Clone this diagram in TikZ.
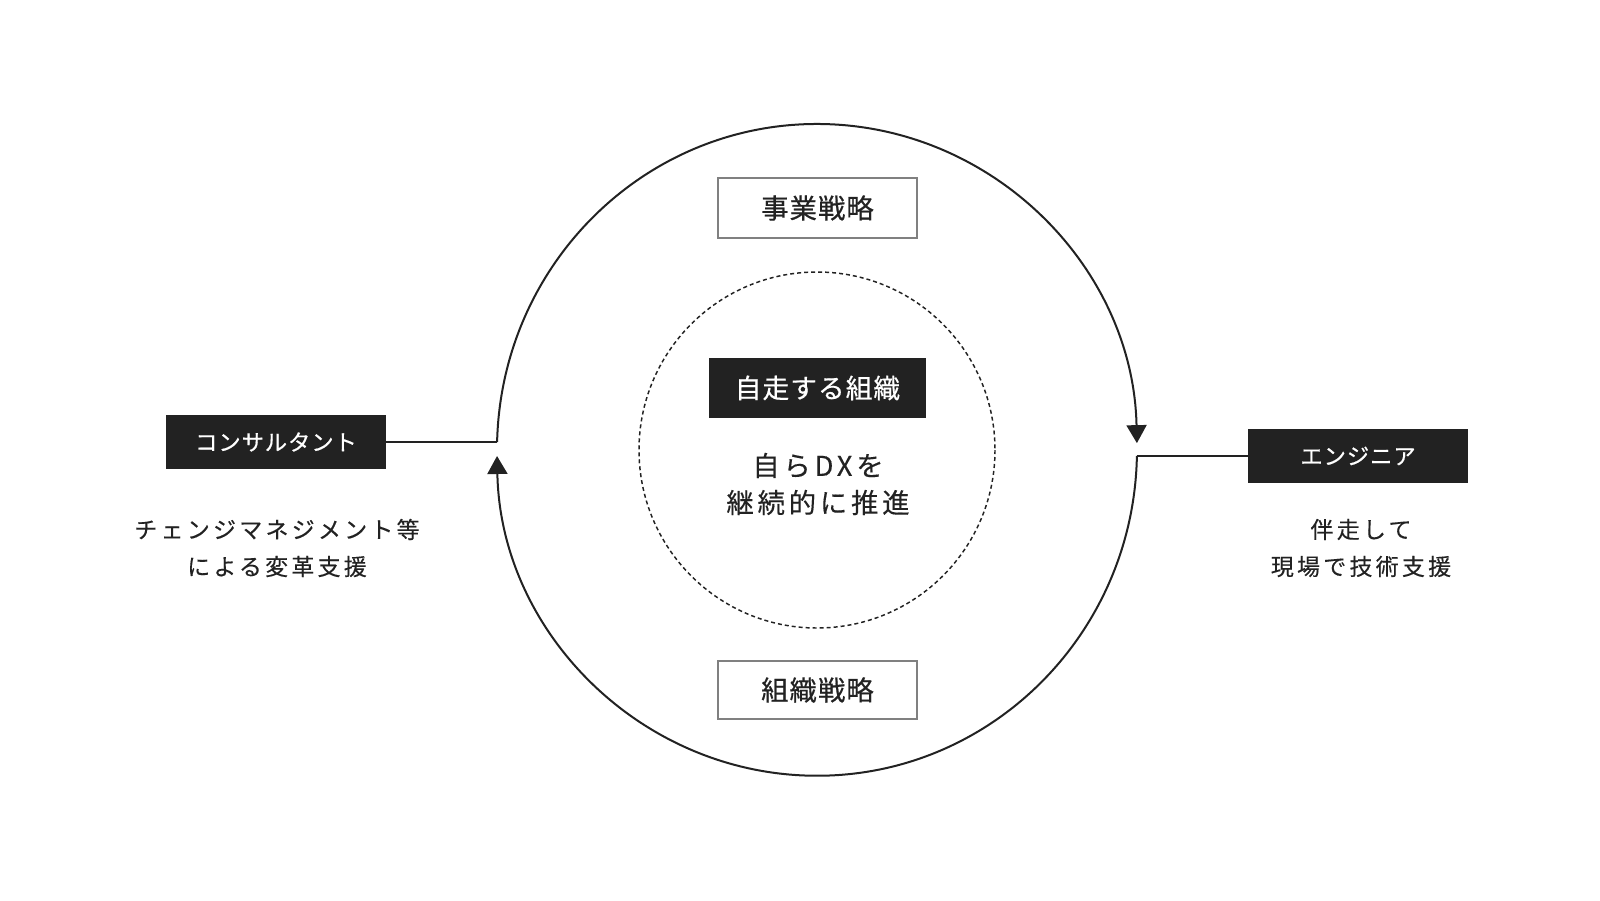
\documentclass[tikz,border=0pt]{standalone}
\usepackage{fontspec}
\setmainfont{Noto Sans CJK JP}
\newfontfamily\jpbox[LetterSpace=4, FakeBold=0.6]{Noto Sans CJK JP}
\newfontfamily\jpwide[LetterSpace=14, FakeBold=0.3]{Noto Sans CJK JP}
\usetikzlibrary{arrows.meta}
\definecolor{ink}{HTML}{222222}
\definecolor{framegray}{HTML}{808080}

\begin{document}
\begin{tikzpicture}[x=0.75pt, y=-0.75pt,
    ring/.style = {draw=ink, line width=1.5pt},
    tip/.style = {-{Triangle[width=15pt, length=13.5pt]}},
    darkbox/.style = {fill=ink, text=white, inner sep=0pt, minimum width=165pt, minimum height=40.5pt,
        font=\jpbox\fontsize{16.75}{18}\selectfont},
    lightbox/.style = {draw=framegray, line width=1.1pt, fill=white, text=ink, inner sep=0pt,
        minimum width=149.25pt, minimum height=45pt, font=\jpbox\fontsize{20.5}{24}\selectfont},
    desc/.style = {text=ink, align=center, inner sep=0pt, font=\jpwide\fontsize{17.25}{27.75}\selectfont}]
    \useasboundingbox (0,0) rectangle (1600,900);
    \coordinate (c) at (817,450);
    % outer ring, two arcs
    \coordinate (lt) at (497.1,442);
    \coordinate (rb) at (1136.9,456);
    \draw[ring, tip] (lt) arc[start angle=181.4, end angle=358.8, x radius=320, y radius=326];
    \draw[ring, tip] (rb) arc[start angle=1.1, end angle=178.9, x radius=320, y radius=326];
    % inner ring
    \draw[draw=ink, line width=1.1pt, dash pattern=on 3pt off 2.25pt] (c) circle[radius=178];
    % center
    \node[darkbox, minimum width=162.75pt, minimum height=45pt, font=\jpbox\fontsize{20}{24}\selectfont] (jiso) at (817.5,388) {自走する組織};
    \node[desc, font=\jpwide\fontsize{20.5}{27.75}\selectfont] (dx) at (818,484) {自らDXを\\継続的に推進};
    \node[lightbox] (jigyo) at (817.5,208) {事業戦略};
    \node[lightbox, minimum height=43.5pt] (soshiki) at (817.5,690) {組織戦略};
    % sides
    \node[darkbox] (kons) at (276,442) {コンサルタント};
    \node[darkbox] (eng) at (1358,456) {エンジニア};
    \node[desc] (konsdesc) at (277,548) {チェンジマネジメント等\\による変革支援};
    \node[desc] (engdesc) at (1361,548) {伴走して\\現場で技術支援};
    \draw[draw=ink, line width=1.5pt] (kons.east) -- (lt);
    \draw[draw=ink, line width=1.5pt] (rb) -- (eng.west);
\end{tikzpicture}
\end{document}
